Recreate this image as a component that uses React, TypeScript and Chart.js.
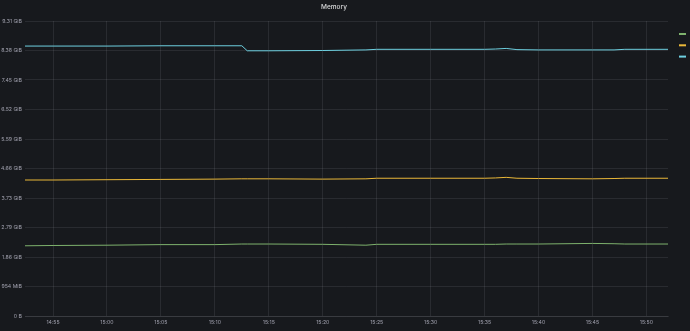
import React, { useEffect, useRef } from "react";
import { Chart, registerables } from "chart.js";

Chart.register(...registerables);

const title = "Memory";
const times = ["14:52:24", "14:55", "15:00", "15:05", "15:10", "15:12:30", "15:13", "15:15", "15:20", "15:24", "15:25", "15:30", "15:35", "15:36", "15:37", "15:38", "15:40", "15:45", "15:47", "15:48", "15:52"];
// values in GB (1e9 bytes)
const greenSeries = [2.38, 2.39, 2.40, 2.42, 2.42, 2.44, 2.44, 2.44, 2.43, 2.40, 2.43, 2.43, 2.43, 2.43, 2.44, 2.44, 2.44, 2.46, 2.45, 2.44, 2.44];
const yellowSeries = [4.61, 4.61, 4.62, 4.63, 4.64, 4.65, 4.65, 4.65, 4.64, 4.65, 4.67, 4.67, 4.67, 4.68, 4.70, 4.67, 4.66, 4.65, 4.66, 4.67, 4.67];
const cyanSeries = [9.15, 9.15, 9.15, 9.16, 9.16, 9.16, 8.99, 8.99, 9.00, 9.02, 9.04, 9.04, 9.04, 9.05, 9.07, 9.03, 9.02, 9.02, 9.02, 9.04, 9.04];
const seriesColors = ["#7EB26D", "#EAB839", "#6ED0E0"];
const xTickLabels = ["14:55", "15:00", "15:05", "15:10", "15:15", "15:20", "15:25", "15:30", "15:35", "15:40", "15:45", "15:50"];
const yMin = 0;
const yMax = 10;
const yStep = 1;

function toMin(t: string): number {
  const p = t.split(":").map(Number);
  return p[0] * 60 + p[1] + (p[2] || 0) / 60;
}
function fmtMin(m: number): string {
  const h = Math.floor(m / 60);
  const mm = Math.round(m - h * 60);
  return `${h}:${mm.toString().padStart(2, "0")}`;
}
function fmtBytes(gb: number): string {
  const bytes = gb * 1e9;
  if (bytes === 0) return "0 B";
  const GiB = 1024 ** 3;
  const MiB = 1024 ** 2;
  if (bytes >= GiB) return (bytes / GiB).toFixed(2) + " GiB";
  return Math.round(bytes / MiB) + " MiB";
}

const legendPlugin = {
  id: "sideLegend",
  afterDraw(chart: any) {
    const ctx = chart.ctx;
    ctx.save();
    chart.data.datasets.forEach((ds: any, i: number) => {
      ctx.fillStyle = ds.borderColor;
      ctx.fillRect(chart.chartArea.right + 11, 33 + i * 11.3, 7, 2);
    });
    ctx.restore();
  },
};

export default function App() {
  const ref = useRef<HTMLCanvasElement>(null);
  useEffect(() => {
    const xs = times.map(toMin);
    const mk = (vals: number[]) => vals.map((v, i) => ({ x: xs[i], y: v }));
    const chart = new Chart(ref.current!, {
      type: "line",
      data: {
        datasets: [greenSeries, yellowSeries, cyanSeries].map((s, i) => ({
          label: "",
          data: mk(s),
          borderColor: seriesColors[i],
          backgroundColor: seriesColors[i],
          borderWidth: 1,
          pointRadius: 0,
          tension: 0,
          fill: false,
        })),
      },
      options: {
        animation: false,
        responsive: false,
        maintainAspectRatio: false,
        layout: { padding: { right: 22, top: 0, left: 0, bottom: 0 } },
        plugins: {
          legend: { display: false },
          tooltip: { enabled: false },
          title: {
            display: true,
            text: title,
            color: "#d8d9da",
            font: { family: "Inter", size: 6.5, weight: "500" as any, lineHeight: 1.2 },
            padding: { top: 3, bottom: 10.2 },
          },
        },
        scales: {
          x: {
            type: "linear",
            min: xs[0],
            max: xs[xs.length - 1],
            afterBuildTicks: (scale: any) => {
              scale.ticks = xTickLabels.map((t) => ({ value: toMin(t) }));
            },
            afterFit: (scale: any) => {
              scale.height = 15;
            },
            ticks: {
              color: "rgba(204,204,220,0.75)",
              font: { family: "Inter", size: 5.2 },
              padding: 3,
              maxRotation: 0,
              autoSkip: false,
              callback: (v: any) => fmtMin(Number(v)),
            },
            grid: { color: "rgba(204,204,220,0.1)", drawTicks: false, lineWidth: 1 },
            border: { display: true, color: "rgba(204,204,220,0.1)" },
          },
          y: {
            type: "linear",
            min: yMin,
            max: yMax,
            afterFit: (scale: any) => {
              scale.width = 25;
            },
            ticks: {
              stepSize: yStep,
              color: "rgba(204,204,220,0.75)",
              font: { family: "Inter", size: 5.2 },
              padding: 3,
              callback: (v: any) => fmtBytes(Number(v)),
            },
            grid: { color: "rgba(204,204,220,0.1)", drawTicks: false, lineWidth: 1 },
            border: { display: false },
          },
        },
      },
      plugins: [legendPlugin],
    });
    return () => chart.destroy();
  }, []);
  return (
    <div style={{ position: "fixed", left: 0, top: 0, width: 690, height: 331, background: "#17191d" }}>
      <canvas ref={ref} width={690} height={331} style={{ display: "block", width: 690, height: 331 }} />
    </div>
  );
}
